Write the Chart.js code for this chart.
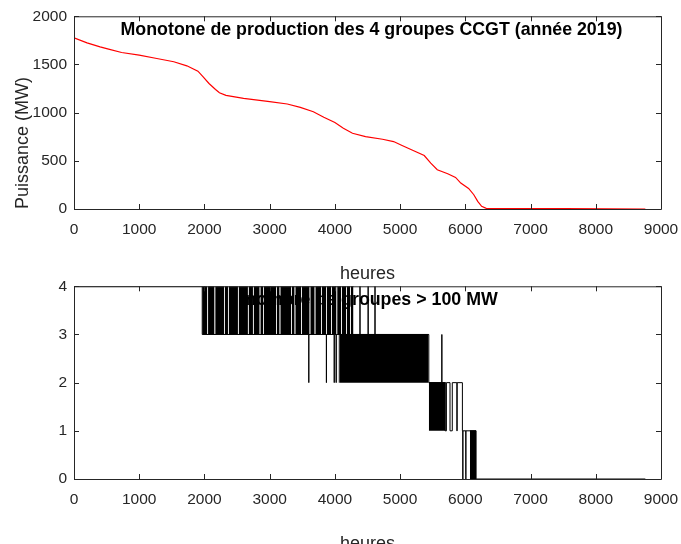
<!DOCTYPE html>
<html>
<head>
<meta charset="utf-8">
<script src="https://cdn.jsdelivr.net/npm/chart.js@4.4.0/dist/chart.umd.min.js"></script>
<style>
  html, body { margin: 0; padding: 0; background: #fff; overflow: hidden; }
  #page { position: relative; width: 681px; height: 544px; overflow: hidden; }
  canvas { position: absolute; left: 0; }
  #graf1 { top: 0; }
  #graf2 { top: 270px; }
</style>
</head>
<body>
<div id="page">
  <canvas id="graf1" width="681" height="285"></canvas>
  <canvas id="graf2" width="681" height="285"></canvas>
</div>
<script>
// monotone de production (heures triées, MW)
const heuresProd = [0, 200, 400, 530, 730, 1000, 1270, 1530, 1730, 1900, 1970, 2070, 2170, 2230, 2330, 2600, 3000, 3270, 3470, 3670, 3830, 4000, 4130, 4270, 4470, 4730, 4900, 5030, 5200, 5370, 5470, 5570, 5730, 5850, 5930, 6050, 6130, 6190, 6250, 6320, 7000, 7530, 8200, 8760];
const puissance = [1776, 1724, 1683, 1659, 1624, 1597, 1562, 1528, 1486, 1431, 1379, 1303, 1241, 1207, 1179, 1148, 1114, 1090, 1055, 1010, 952, 897, 838, 786, 752, 724, 700, 659, 607, 555, 476, 407, 366, 328, 269, 214, 148, 79, 28, 7, 5, 3, 2, 0];

// nombre de groupes > 100 MW : heure du changement et nouveau niveau
const heuresChgt = [0, 1966, 3600, 3600, 3870, 3870, 3990, 3990, 4020, 4020, 4385, 4385, 4510, 4510, 4615, 4615, 5440, 5640, 5640, 5690, 5710, 5765, 5800, 5870, 5875, 5955, 5962, 5962, 6008, 6008, 6165, 8760];
const niveaux =    [4, 3, 2, 3, 2, 3, 2, 3, 2, 3, 4, 3, 4, 3, 4, 3, 2, 3, 2, 1, 2, 1, 2, 1, 2, 1, 0, 1, 0, 1, 0, 0];

// zones où le nombre bascule très vite (rendu plein) [début, fin]
const blocs34 = [[1966, 2045], [2055, 2155], [2165, 2300], [2310, 2361], [2371, 2514], [2524, 2667], [2677, 2744], [2754, 2847], [2857, 2898], [2908, 3102], [3112, 3153], [3163, 3332], [3342, 3383], [3393, 3485], [3495, 3613], [3623, 3690], [3700, 3792], [3802, 3869], [3879, 3945], [3955, 4025], [4035, 4095], [4105, 4175], [4185, 4235], [4245, 4285]];
const blocs23 = [[4045, 4055], [4065, 5435]];
const blocs12 = [[5440, 5700]];
const blocs01 = [[6070, 6165]];

const gris = '#262626';
const police = '"Liberation Sans", Arial, Helvetica, sans-serif';

function titreInterne(texte) {
  return {
    id: 'titreInterne',
    beforeDatasetsDraw(chart) {
      const { ctx, chartArea: a } = chart;
      ctx.save();
      ctx.font = 'bold 17.8px ' + police;
      ctx.fillStyle = '#000';
      ctx.textAlign = 'center';
      ctx.textBaseline = 'middle';
      ctx.fillText(texte, (a.left + a.right) / 2 + 4, a.top + 14);
      ctx.restore();
    }
  };
}

// cadre façon matlab, graduations vers l'intérieur
const cadre = {
  id: 'cadre',
  afterDatasetsDraw(chart) {
    const { ctx, chartArea: a, scales: { x, y } } = chart;
    ctx.save();
    ctx.strokeStyle = gris;
    ctx.lineWidth = 1;
    ctx.beginPath();
    ctx.rect(a.left + 0.5, a.top + 0.5, a.right - a.left, a.bottom - a.top);
    x.ticks.forEach(t => {
      const px = Math.round(x.getPixelForValue(t.value)) + 0.5;
      ctx.moveTo(px, a.bottom); ctx.lineTo(px, a.bottom - 5);
      ctx.moveTo(px, a.top); ctx.lineTo(px, a.top + 5);
    });
    y.ticks.forEach(t => {
      const py = Math.round(y.getPixelForValue(t.value)) + 0.5;
      ctx.moveTo(a.left, py); ctx.lineTo(a.left + 5, py);
      ctx.moveTo(a.right, py); ctx.lineTo(a.right - 5, py);
    });
    ctx.stroke();
    ctx.restore();
  }
};

function options(yMax, yStep, yTitre) {
  return {
    responsive: false,
    animation: false,
    layout: { padding: { top: 16, right: 20, left: 0, bottom: 0 } },
    plugins: { legend: { display: false }, tooltip: { enabled: false } },
    scales: {
      x: {
        type: 'linear', min: 0, max: 9000,
        ticks: { stepSize: 1000, padding: 11, color: gris, font: { size: 15.5, family: police }, callback: v => String(v) },
        grid: { display: false, drawTicks: false },
        border: { display: false },
        title: { display: true, text: 'heures', color: gris, font: { size: 18, family: police }, padding: 0 },
        afterFit: s => { s.height = 76; s.paddingLeft = 0; s.paddingRight = 0; }
      },
      y: {
        type: 'linear', min: 0, max: yMax,
        ticks: { stepSize: yStep, padding: 7, color: gris, font: { size: 15.5, family: police }, callback: v => String(v) },
        grid: { display: false, drawTicks: false },
        border: { display: false },
        title: { display: !!yTitre, text: yTitre || '', align: 'start', color: gris, font: { size: 18, family: police }, padding: { top: 12, bottom: 0 } },
        afterFit: s => { s.width = 74; }
      }
    }
  };
}

new Chart(document.getElementById('graf1'), {
  type: 'line',
  data: {
    datasets: [{
      data: heuresProd.map((h, i) => ({ x: h, y: puissance[i] })),
      borderColor: '#ff0000',
      borderWidth: 1.2,
      pointRadius: 0,
      tension: 0,
      fill: false
    }]
  },
  options: options(2000, 500, 'Puissance (MW)'),
  plugins: [titreInterne('Monotone de production des 4 groupes CCGT (année 2019)'), cadre]
});

const zones = [];
[[blocs34, 3, 4], [blocs23, 2, 3], [blocs12, 1, 2], [blocs01, 0, 1]].forEach(([blocs, bas, haut]) => {
  blocs.forEach(([d, f]) => {
    zones.push({
      data: [{ x: d, y: haut }, { x: f, y: haut }],
      borderColor: '#000',
      backgroundColor: '#000',
      borderWidth: 1,
      pointRadius: 0,
      fill: { value: bas }
    });
  });
});

new Chart(document.getElementById('graf2'), {
  type: 'line',
  data: {
    datasets: [{
      data: heuresChgt.map((h, i) => ({ x: h, y: niveaux[i] })),
      borderColor: '#000',
      borderWidth: 1,
      pointRadius: 0,
      stepped: true,
      fill: false
    }].concat(zones)
  },
  options: options(4, 1, null),
  plugins: [titreInterne('nombre de groupes > 100 MW'), cadre]
});
</script>
</body>
</html>
